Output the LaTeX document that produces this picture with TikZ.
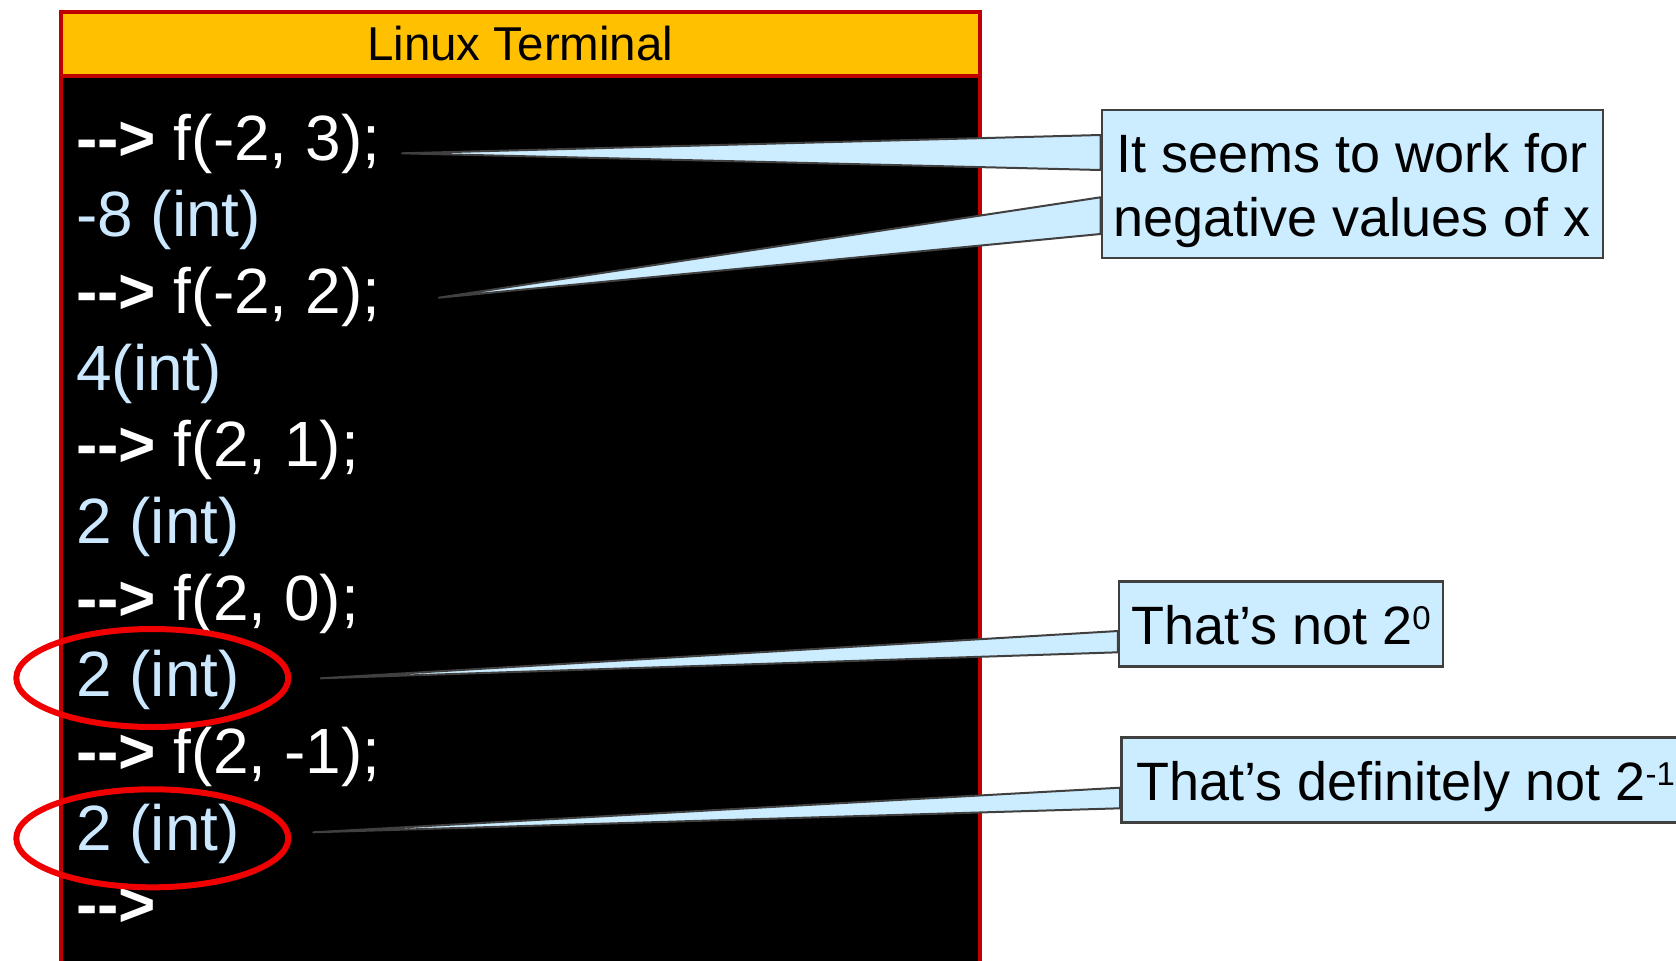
\documentclass[tikz,border=0pt]{standalone}
\usepackage{fontspec}
\setmainfont{Liberation Sans}
\usetikzlibrary{calc}
\definecolor{hdrfill}{HTML}{FFC000}
\definecolor{termred}{HTML}{C00000}
\definecolor{outblue}{HTML}{CCE8FF}
\definecolor{callfill}{HTML}{CCECFF}
\definecolor{calldraw}{HTML}{404040}
\definecolor{ringred}{HTML}{F00000}
\newcommand\cstrut{\rule[-12pt]{0pt}{64pt}}
\newcommand\supnum[1]{\raisebox{15pt}{\fontsize{33}{38}\selectfont #1}}
\begin{document}
\begin{tikzpicture}[x=1pt,y=-1pt,
  term/.style={anchor=base west, inner sep=0pt, font=\fontsize{64}{76}\selectfont},
  cmd/.style={term, text=white},
  res/.style={term, text=outblue},
  callout/.style={draw=calldraw, fill=callfill, line width=2.5pt,
    font=\fontsize{54}{64}\selectfont, inner xsep=12pt, inner ysep=0pt},
  wedge/.style={draw=calldraw, fill=callfill, line width=2pt, line join=round},
  ring/.style={draw=ringred, line width=6pt}]
\useasboundingbox (0,0) rectangle (1676,961);
% terminal body and header
\node[draw=termred, fill=black, line width=4pt, minimum width=919.5pt,
  minimum height=930pt, anchor=north west, inner sep=0pt] (body) at (58.5,73.8) {};
\node[draw=termred, fill=hdrfill, line width=4pt, minimum width=919.5pt,
  minimum height=63.5pt, anchor=north west, inner sep=0pt,
  font=\fontsize{47.5}{56}\selectfont] (hdr) at (58.5,10.3) {\raisebox{1.5pt}{Linux Terminal}};
% terminal lines
\node[cmd] (l0) at (76,160) {\textbf{-{}->} f(-2, 3);};
\node[res] (l1) at (76,236.7) {-8 (int)};
\node[cmd] (l2) at (76,313.3) {\textbf{-{}->} f(-2, 2);};
\node[res] (l3) at (76,390) {4(int)};
\node[cmd] (l4) at (76,466.7) {\textbf{-{}->} f(2, 1);};
\node[res] (l5) at (76,543.3) {2 (int)};
\node[cmd] (l6) at (76,620) {\textbf{-{}->} f(2, 0);};
\node[res] (l7) at (76,696.7) {2 (int)};
\node[cmd] (l8) at (76,773.3) {\textbf{-{}->} f(2, -1);};
\node[res] (l9) at (76,850) {2 (int)};
\node[cmd] (l10) at (76,926.7) {\textbf{-{}->}};
% rings
\draw[ring] (152.3,678) ellipse [x radius=136, y radius=49];
\draw[ring] (152.3,838.3) ellipse [x radius=136, y radius=49];
% callouts
\node[callout, minimum width=497pt, minimum height=148pt, align=center] (c1)
  at (1352.4,184.2) {\rule{0pt}{52pt}It seems to work for\\negative values of x\rule[-12pt]{0pt}{12pt}};
\node[callout, minimum width=321.7pt, minimum height=85pt] (c2)
  at (1281,624.2) {\cstrut That’s not 2\supnum{0}};
\node[callout, minimum height=84.6pt, anchor=west, inner xsep=15pt] (c3)
  at (1120,780) {\cstrut That’s definitely not 2\supnum{-1}};
% wedge tips
\coordinate (t1) at (402,153.3);
\coordinate (t2) at (438.8,297.7);
\coordinate (t3) at (320.6,678.3);
\coordinate (t4) at (313.2,832.3);
\draw[wedge] (t1) -- (c1.west |- 0,135) -- (c1.west |- 0,170) -- cycle;
\draw[wedge] (t2) -- (c1.west |- 0,197.3) -- (c1.west |- 0,234) -- cycle;
\draw[wedge] (t3) -- (c2.west |- 0,631) -- (c2.west |- 0,652.3) -- cycle;
\draw[wedge] (t4) -- (c3.west |- 0,787.7) -- (c3.west |- 0,808.3) -- cycle;
\end{tikzpicture}
\end{document}
